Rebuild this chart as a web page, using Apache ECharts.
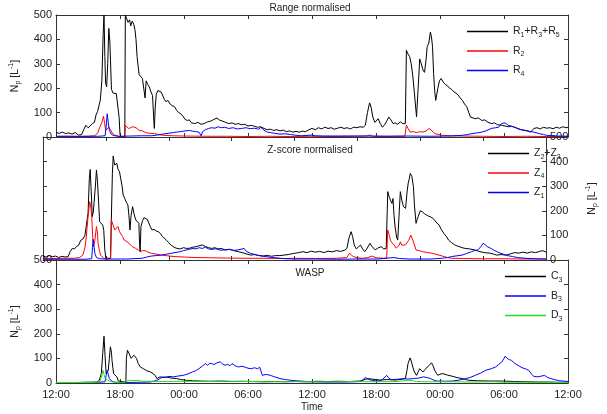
<!DOCTYPE html>
<html>
<head>
<meta charset="utf-8">
<script src="https://cdn.jsdelivr.net/npm/echarts@6/dist/echarts.min.js"></script>
<style>
  html, body { margin: 0; padding: 0; background: #fff; }
  #chart { width: 607px; height: 414px; }
</style>
</head>
<body>
<div id="chart"></div>
<script>
// hours since 12:00 on day 1, tick every 6 h
var timeLabels = ["12:00", "18:00", "00:00", "06:00", "12:00", "18:00", "00:00", "06:00", "12:00"];
var panelTitles = ["Range normalised", "Z-score normalised", "WASP"];

// Range normalised
var r135 = [[0,18],[0.3,15],[0.6,20],[0.9,14],[1.2,17],[1.5,12],[1.8,18],[2.1,8],[2.4,10],[2.6,30],[2.8,48],[3.0,38],[3.2,45],[3.4,55],[3.6,60],[3.75,90],[3.9,105],[4.05,110],[4.15,150],[4.3,230],[4.42,420],[4.5,500],[4.58,330],[4.65,220],[4.75,205],[4.85,300],[4.95,445],[5.05,390],[5.2,195],[5.35,180],[5.5,185],[5.65,178],[5.8,170],[5.92,80],[6.0,10],[6.1,0],[6.45,0],[6.5,500],[6.6,500],[6.75,470],[6.9,480],[7.0,455],[7.15,475],[7.3,460],[7.4,440],[7.5,400],[7.6,330],[7.7,290],[7.8,255],[7.95,250],[8.1,240],[8.25,235],[8.35,160],[8.45,230],[8.6,215],[8.75,205],[8.9,185],[9.05,170],[9.18,60],[9.22,35],[9.3,120],[9.4,175],[9.55,190],[9.7,195],[9.85,185],[10.0,190],[10.15,155],[10.3,145],[10.5,150],[10.7,135],[10.9,128],[11.1,125],[11.3,110],[11.5,100],[11.7,95],[11.9,85],[12.1,72],[12.3,68],[12.5,70],[12.7,58],[13.0,55],[13.3,60],[13.6,52],[13.9,55],[14.2,62],[14.5,65],[14.8,72],[15.1,78],[15.3,70],[15.6,65],[15.9,60],[16.2,55],[16.5,58],[16.8,52],[17.1,55],[17.4,50],[17.7,52],[18.0,45],[18.3,48],[18.6,44],[18.9,40],[19.2,42],[19.5,35],[19.8,30],[20.1,32],[20.4,27],[20.7,30],[21.0,25],[21.3,28],[21.6,22],[21.9,25],[22.2,20],[22.5,23],[22.8,20],[23.1,24],[23.4,22],[23.7,30],[24.0,35],[24.3,30],[24.6,38],[24.9,33],[25.2,40],[25.5,35],[25.8,38],[26.1,32],[26.4,36],[26.7,40],[27.0,35],[27.3,38],[27.6,33],[27.9,40],[28.2,38],[28.5,42],[28.8,40],[29.0,48],[29.2,100],[29.4,140],[29.55,120],[29.7,82],[29.9,60],[30.05,55],[30.2,75],[30.4,55],[30.6,40],[30.8,50],[31.0,65],[31.2,82],[31.4,70],[31.6,55],[31.8,58],[32.0,52],[32.3,62],[32.5,55],[32.75,55],[32.85,355],[33.0,340],[33.15,330],[33.3,300],[33.45,250],[33.6,180],[33.8,82],[33.95,200],[34.1,320],[34.25,300],[34.4,275],[34.55,265],[34.7,320],[34.8,370],[34.95,385],[35.1,430],[35.2,410],[35.3,370],[35.4,260],[35.5,190],[35.6,150],[35.7,175],[35.8,200],[35.95,230],[36.1,240],[36.3,225],[36.5,215],[36.7,210],[36.9,200],[37.1,195],[37.3,185],[37.5,180],[37.7,172],[37.9,160],[38.1,150],[38.3,135],[38.5,125],[38.7,100],[38.85,82],[39.0,85],[39.3,75],[39.6,78],[39.9,68],[40.2,70],[40.5,60],[40.85,55],[41.1,58],[41.4,50],[41.8,48],[42.1,45],[42.4,42],[42.7,44],[43.0,40],[43.3,35],[43.6,30],[43.9,28],[44.2,25],[44.5,20],[44.8,35],[45.1,38],[45.4,33],[45.7,40],[46.0,36],[46.3,38],[46.6,34],[46.9,40],[47.2,36],[47.5,42],[47.8,38],[48,40]];
var r2 = [[0,2],[1,3],[2,2],[3,3],[3.6,5],[3.9,15],[4.1,40],[4.3,60],[4.45,85],[4.55,60],[4.65,27],[4.8,35],[4.95,40],[5.1,30],[5.3,15],[5.5,8],[5.8,3],[6.0,0],[6.45,0],[6.5,48],[6.65,40],[6.8,35],[7.0,38],[7.2,42],[7.4,40],[7.6,35],[7.8,27],[8.1,25],[8.4,18],[8.8,15],[9.2,14],[9.6,10],[10.0,7],[11,5],[12,4],[14,3],[16,3],[18,2],[20,3],[22,2],[24,3],[26,2],[28,3],[29.1,4],[29.4,8],[29.7,3],[31,3],[32.7,3],[32.85,48],[33.0,35],[33.2,20],[33.5,22],[33.8,18],[34.1,22],[34.4,20],[34.7,25],[35.0,35],[35.2,28],[35.5,14],[35.9,10],[36.2,7],[37,5],[38,4],[40,3],[42,2],[44,3],[46,2],[48,2]];
var r4 = [[0,3],[2,3],[4,3],[4.6,5],[4.7,40],[4.8,95],[4.9,60],[5.0,27],[5.2,10],[5.5,5],[6,3],[7,4],[8,5],[9,5],[9.5,8],[10.0,12],[10.5,15],[11.0,18],[11.3,20],[11.7,22],[12.1,25],[12.5,27],[12.8,24],[13.1,22],[13.4,20],[13.6,5],[13.75,22],[14.0,30],[14.3,35],[14.6,38],[14.9,36],[15.2,42],[15.5,38],[15.8,40],[16.2,35],[16.6,38],[17.0,33],[17.4,35],[17.8,38],[18.2,34],[18.6,36],[19.0,32],[19.2,40],[19.5,28],[19.8,20],[20.1,18],[20.5,15],[21,12],[21.5,13],[22,10],[22.5,7],[23,5],[24,8],[24.3,5],[25,4],[27,4],[29,4],[31,3],[33,4],[35,3],[37,4],[38.1,7],[38.6,10],[39.0,14],[39.5,17],[39.9,20],[40.3,25],[40.8,35],[41.2,38],[41.5,40],[41.75,55],[41.9,62],[42.1,58],[42.4,48],[42.7,44],[43.0,40],[43.4,32],[43.9,27],[44.3,24],[44.8,20],[45.3,14],[45.7,10],[46.0,7],[46.5,5],[47,4],[48,3]];

// Z-score normalised
var z23 = [[0,15],[0.3,12],[0.6,18],[0.9,13],[1.2,16],[1.5,10],[1.8,15],[2.1,12],[2.4,14],[2.6,35],[2.8,47],[3.0,45],[3.2,55],[3.4,60],[3.6,80],[3.8,85],[4.0,100],[4.15,108],[4.3,190],[4.42,330],[4.5,368],[4.6,280],[4.7,176],[4.8,195],[4.9,203],[5.0,300],[5.1,366],[5.2,320],[5.3,240],[5.4,156],[5.55,150],[5.7,142],[5.8,120],[5.9,40],[6.0,7],[6.45,7],[6.52,163],[6.62,350],[6.7,423],[6.78,400],[6.85,386],[6.95,380],[7.05,393],[7.15,370],[7.3,359],[7.45,355],[7.55,300],[7.65,264],[7.8,250],[7.95,235],[8.1,224],[8.2,180],[8.3,122],[8.4,180],[8.55,217],[8.7,185],[8.85,163],[9.0,155],[9.15,149],[9.22,60],[9.27,34],[9.35,136],[9.5,160],[9.65,172],[9.8,170],[9.95,165],[10.1,160],[10.25,135],[10.4,122],[10.6,125],[10.8,118],[11.0,115],[11.2,108],[11.4,95],[11.6,88],[11.8,80],[12.0,70],[12.2,61],[12.4,55],[12.6,50],[12.8,47],[13.1,45],[13.4,50],[13.7,47],[14.0,48],[14.3,52],[14.6,54],[14.9,58],[15.2,61],[15.5,55],[15.8,50],[16.1,47],[16.4,50],[16.7,45],[17.0,47],[17.4,41],[17.8,43],[18.2,38],[18.6,34],[19.0,30],[19.4,25],[19.8,20],[20.2,22],[20.6,18],[21.0,16],[21.4,19],[21.8,15],[22.2,18],[22.6,18],[23.0,20],[23.4,22],[23.7,25],[24.0,27],[24.4,30],[24.8,34],[25.2,30],[25.6,36],[26.0,32],[26.4,35],[26.8,30],[27.2,36],[27.6,33],[28.0,38],[28.4,35],[28.8,40],[29.0,47],[29.2,90],[29.4,115],[29.55,95],[29.7,61],[29.9,45],[30.05,41],[30.3,61],[30.5,45],[30.7,34],[30.9,45],[31.2,68],[31.4,55],[31.7,41],[32.0,50],[32.3,54],[32.5,45],[32.75,47],[32.85,200],[32.9,278],[33.05,255],[33.15,244],[33.3,230],[33.4,250],[33.5,180],[33.6,135],[33.75,90],[33.85,81],[34.0,200],[34.1,278],[34.25,240],[34.4,217],[34.5,225],[34.6,210],[34.75,280],[34.85,312],[34.95,330],[35.05,352],[35.15,345],[35.2,339],[35.35,298],[35.45,220],[35.6,149],[35.7,165],[35.8,176],[36.0,200],[36.2,196],[36.4,188],[36.6,183],[36.8,178],[37.0,175],[37.2,170],[37.4,160],[37.6,150],[37.8,142],[38.0,125],[38.25,108],[38.5,95],[38.7,81],[39.0,70],[39.3,61],[39.6,56],[40.0,50],[40.3,47],[40.7,45],[41.2,41],[41.6,35],[42.1,30],[42.6,28],[43.0,24],[43.3,20],[43.7,22],[44.2,20],[44.6,25],[45.0,30],[45.4,28],[45.8,32],[46.2,28],[46.6,33],[47.0,30],[47.4,35],[47.7,38],[48,32]];
var z4 = [[0,7],[1,6],[2,7],[3,7],[3.5,10],[3.8,20],[4.0,50],[4.1,80],[4.3,176],[4.45,237],[4.55,220],[4.65,176],[4.75,90],[4.8,54],[4.95,80],[5.1,136],[5.2,110],[5.25,68],[5.4,35],[5.5,20],[5.8,7],[6.0,5],[6.45,5],[6.52,163],[6.7,170],[6.85,122],[7.0,125],[7.15,136],[7.3,115],[7.45,108],[7.6,95],[7.75,81],[8.0,75],[8.2,68],[8.5,55],[8.85,47],[9.1,40],[9.3,34],[9.5,38],[9.75,38],[10.0,32],[10.35,27],[10.8,24],[11.3,20],[11.9,17],[12.5,14],[13.5,12],[14.5,10],[16,9],[17.5,8],[19,7],[21,7],[23,6],[24,7],[26,6],[28,7],[29.0,10],[29.25,27],[29.6,14],[30,9],[30.5,7],[31.0,10],[31.4,16],[31.8,9],[32.5,7],[32.8,8],[32.9,122],[33.05,100],[33.15,81],[33.3,70],[33.5,61],[33.7,48],[33.85,41],[34.0,60],[34.1,74],[34.25,60],[34.4,54],[34.6,62],[34.75,68],[34.9,80],[35.1,101],[35.25,85],[35.45,61],[35.6,41],[35.9,38],[36.2,34],[36.7,30],[37.2,27],[37.6,22],[38.1,16],[38.6,10],[39.0,7],[40,6],[42,5],[44,5],[46,4],[48,4]];
var z1 = [[0,3],[2,3],[4,3],[4.65,5],[4.72,50],[4.8,84],[4.88,50],[4.95,27],[5.1,10],[5.4,5],[6,4],[8,4],[9.45,7],[9.9,12],[10.35,16],[10.8,18],[11.3,20],[11.7,23],[12.2,27],[12.6,30],[13.1,34],[13.4,38],[13.7,41],[14.0,44],[14.3,47],[14.6,45],[14.9,50],[15.2,47],[15.5,52],[15.8,45],[16.1,43],[16.5,46],[16.9,40],[17.4,41],[17.8,44],[18.2,39],[18.6,41],[18.9,44],[19.2,47],[19.4,35],[19.8,27],[20.1,24],[20.4,20],[20.8,17],[21.3,14],[21.8,10],[22.2,9],[22.6,7],[23.2,5],[24,4],[26,4],[28,3],[30,4],[32,4],[33.5,10],[34,6],[35,4],[37,4],[38.1,7],[38.6,10],[39,14],[39.5,17],[40,20],[40.4,26],[40.9,34],[41.2,38],[41.5,41],[41.8,55],[42.0,68],[42.2,62],[42.4,54],[42.7,48],[43.0,41],[43.4,32],[43.9,24],[44.3,18],[44.8,14],[45.3,10],[46.0,7],[47,5],[48,4]];

// WASP
var c3 = [[0,2],[1,2],[2,2],[3,3],[3.8,3],[4.05,10],[4.25,38],[4.38,120],[4.5,190],[4.6,110],[4.7,38],[4.8,45],[4.9,52],[5.0,100],[5.1,147],[5.2,125],[5.25,92],[5.4,38],[5.55,30],[5.7,25],[5.85,8],[6.0,3],[6.55,3],[6.6,100],[6.7,133],[6.78,125],[6.85,120],[6.95,110],[7.05,100],[7.2,108],[7.3,113],[7.45,105],[7.55,100],[7.7,80],[7.9,65],[8.05,62],[8.2,58],[8.5,50],[8.85,45],[9.1,38],[9.3,31],[9.45,18],[9.6,22],[9.75,25],[10.05,22],[10.35,25],[10.8,20],[11.3,18],[11.7,14],[12.2,11],[12.8,9],[13.5,8],[14.5,7],[15.5,8],[16.5,6],[17.5,7],[18.5,6],[19.5,5],[20.5,6],[21.5,5],[22.5,6],[23.5,5],[24.5,7],[25.5,6],[26.5,7],[27.5,6],[28.5,8],[29.0,15],[29.3,18],[29.6,16],[30.3,12],[31.1,14],[31.8,12],[32.4,15],[32.75,18],[32.9,50],[33.0,79],[33.2,102],[33.3,90],[33.45,65],[33.6,45],[33.8,31],[33.95,45],[34.1,58],[34.25,50],[34.4,45],[34.6,55],[34.8,65],[35.0,72],[35.2,82],[35.35,70],[35.5,52],[35.65,40],[35.8,31],[36.0,36],[36.3,38],[36.7,32],[37.2,27],[37.6,22],[38.1,18],[38.4,14],[38.7,11],[39.5,9],[40.5,8],[41.8,8],[43,6],[44,5],[45,4],[46,4],[47,3],[48,3]];
var b3 = [[0,2],[2,2],[4,3],[4.6,5],[4.7,30],[4.8,52],[4.9,35],[5.0,18],[5.2,8],[5.5,3],[6,2],[8,3],[8.85,4],[9.2,8],[9.45,11],[9.75,18],[10.0,25],[10.3,22],[10.6,27],[11.0,25],[11.4,28],[11.9,31],[12.3,36],[12.8,45],[13.1,50],[13.4,58],[13.7,68],[14.0,79],[14.2,72],[14.4,80],[14.6,79],[14.8,75],[15.1,82],[15.4,86],[15.6,78],[15.85,72],[16.1,76],[16.3,70],[16.5,79],[16.8,70],[17.1,65],[17.4,68],[17.7,65],[18.0,60],[18.3,58],[18.6,62],[18.9,58],[19.1,64],[19.2,68],[19.35,31],[19.7,35],[20.1,31],[20.5,25],[21.0,18],[21.5,14],[22.0,11],[22.5,9],[22.9,8],[23.5,6],[24,5],[25,4],[26,4],[27,4],[28,5],[28.6,6],[29.0,22],[29.3,15],[29.6,11],[30.0,8],[30.5,10],[31.0,31],[31.2,20],[31.4,14],[32.0,15],[32.6,18],[33.0,16],[33.5,18],[34.0,20],[34.45,25],[34.8,22],[35.1,18],[35.4,12],[35.7,8],[36.5,7],[37.2,8],[37.8,12],[38.4,18],[38.8,22],[39.3,31],[39.8,40],[40.3,52],[40.8,58],[41.2,65],[41.5,75],[41.8,86],[42.0,100],[42.1,109],[42.3,100],[42.5,95],[42.7,92],[43.0,80],[43.3,72],[43.7,62],[44.0,58],[44.3,52],[44.6,35],[44.8,27],[45.2,25],[45.5,28],[45.8,31],[46.1,22],[46.4,18],[46.7,14],[47.1,10],[47.5,8],[48,6]];
var d3 = [[0,2],[2,2],[3.5,2],[4.1,5],[4.3,30],[4.4,52],[4.5,35],[4.6,18],[4.8,12],[4.9,11],[5.1,6],[5.5,3],[6.0,2],[6.5,3],[6.8,11],[7.2,10],[7.6,11],[8.0,8],[9,7],[10,6],[12,7],[14,6],[16,7],[18,6],[20,5],[22,6],[24,5],[26,5],[28,6],[30,5],[32,6],[33.0,11],[33.4,10],[33.8,6],[35,5],[37,5],[39,4],[41,5],[42,3],[44,3],[46,2],[48,2]];

var seriesColors = {
  "R1+R3+R5": "#000000", "R2": "#ff0000", "R4": "#0000ff",
  "Z2+Z3": "#000000", "Z4": "#ff0000", "Z1": "#0000ff",
  "C3": "#000000", "B3": "#0000ff", "D3": "#22e022"
};

var chart = echarts.init(document.getElementById("chart"));
var font = "'Liberation Sans', Arial, sans-serif";
var axisColor = "#333";

// legend labels with subscripts
var legendNames = {
  "R1+R3+R5": "{n|R}{s|1}{n|+R}{s|3}{n|+R}{s|5}",
  "R2": "{n|R}{s|2}",
  "R4": "{n|R}{s|4}",
  "Z2+Z3": "{n|Z}{s|2}{n|+Z}{s|3}",
  "Z4": "{n|Z}{s|4}",
  "Z1": "{n|Z}{s|1}",
  "C3": "{n|C}{s|3}",
  "B3": "{n|B}{s|3}",
  "D3": "{n|D}{s|3}"
};
var rich = {
  n: { fontSize: 10.5, lineHeight: 14, color: "#222", fontFamily: font, verticalAlign: "middle" },
  s: { fontSize: 7, lineHeight: 7, color: "#222", fontFamily: font, verticalAlign: "bottom" },
  u: { fontSize: 7, lineHeight: 7, color: "#222", fontFamily: font, verticalAlign: "top" }
};
var yName = "{n|N}{s|p}{n| [L}{u|-1}{n|]}";

var grids = [
  { left: 43, width: 525, top: 15, height: 122 },
  { left: 43, width: 525, top: 137, height: 123 },
  { left: 43, width: 525, top: 260, height: 123 }
];

var xAxes = [];
var yAxes = [];
for (var g = 0; g < 3; g++) {
  ["bottom", "top"].forEach(function (pos) {
    xAxes.push({
      gridIndex: g,
      type: "value",
      position: pos,
      min: 0,
      max: 48,
      interval: 6,
      axisLine: { show: true, onZero: false, lineStyle: { color: axisColor, width: 1 } },
      axisTick: { show: true, inside: true, length: 4, lineStyle: { color: axisColor } },
      axisLabel: {
        show: g === 2 && pos === "bottom",
        margin: 6,
        fontSize: 11,
        color: "#222",
        fontFamily: font,
        formatter: function (v) { return timeLabels[v / 6]; }
      },
      splitLine: { show: false },
      name: g === 2 && pos === "bottom" ? "Time" : "",
      nameLocation: "middle",
      nameGap: 19,
      nameTextStyle: { fontSize: 10, color: "#222", fontFamily: font }
    });
  });
  ["left", "right"].forEach(function (pos) {
    var labelled = (g === 1) === (pos === "right");
    yAxes.push({
      gridIndex: g,
      type: "value",
      position: pos,
      min: 0,
      max: 500,
      interval: 100,
      axisLine: { show: true, onZero: false, lineStyle: { color: axisColor, width: 1 } },
      axisTick: { show: true, inside: true, length: 4, lineStyle: { color: axisColor } },
      axisLabel: {
        show: labelled,
        margin: 4,
        fontSize: 11,
        color: "#222",
        fontFamily: font
      },
      splitLine: { show: false },
      name: labelled ? yName : "",
      nameLocation: "middle",
      nameRotate: 90,
      nameGap: pos === "left" ? 34 : 39,
      nameTextStyle: { rich: rich }
    });
  });
}

function line(name, data, g) {
  var color = seriesColors[name];
  return {
    name: name,
    type: "line",
    xAxisIndex: g * 2,
    yAxisIndex: g * 2,
    data: data,
    symbol: "none",
    silent: true,
    animation: false,
    lineStyle: { color: color, width: 1 },
    itemStyle: { color: color }
  };
}

function legend(names, left, top) {
  return {
    data: names.map(function (n) {
      return { name: n, icon: "rect", itemStyle: { color: seriesColors[n], borderWidth: 0 } };
    }),
    orient: "vertical",
    left: left,
    top: top,
    itemWidth: 41,
    itemHeight: 1.5,
    itemGap: 7,
    selectedMode: false,
    formatter: function (n) { return legendNames[n]; },
    textStyle: { rich: rich }
  };
}

var option = {
  backgroundColor: "#fff",
  animation: false,
  title: panelTitles.map(function (t, i) {
    return {
      text: t,
      left: 305,
      textAlign: "center",
      top: [-2, 140, 263][i],
      textStyle: { fontSize: 10, fontWeight: "normal", color: "#222", fontFamily: font }
    };
  }),
  grid: grids,
  xAxis: xAxes,
  yAxis: yAxes,
  legend: [
    legend(["R1+R3+R5", "R2", "R4"], 462, 21),
    legend(["Z2+Z3", "Z4", "Z1"], 483, 143),
    legend(["C3", "B3", "D3"], 500, 266)
  ],
  series: [
    line("R1+R3+R5", r135, 0),
    line("R2", r2, 0),
    line("R4", r4, 0),
    line("Z2+Z3", z23, 1),
    line("Z4", z4, 1),
    line("Z1", z1, 1),
    line("C3", c3, 2),
    line("B3", b3, 2),
    line("D3", d3, 2)
  ]
};

chart.setOption(option);
</script>
</body>
</html>
